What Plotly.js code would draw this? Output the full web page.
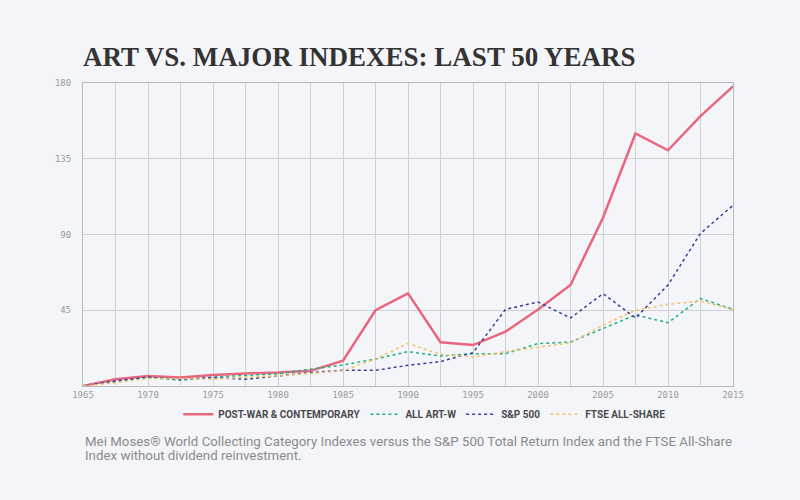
<!DOCTYPE html>
<html>
<head>
<meta charset="utf-8">
<script src="https://cdn.plot.ly/plotly-3.0.1.min.js"></script>
<style>
  html, body { margin: 0; padding: 0; background: #f4f5f9; }
  #chart { width: 800px; height: 500px; }
</style>
</head>
<body>
<div id="chart"></div>
<script>
const years = [1965, 1967.5, 1970, 1972.5, 1975, 1977.5, 1980, 1982.5, 1985, 1987.5, 1990,
               1992.5, 1995, 1997.5, 2000, 2002.5, 2005, 2007.5, 2010, 2012.5, 2015];
const postWar = [0, 4, 6, 5, 6.5, 7.5, 8, 9, 15, 45, 55, 26, 24.3, 32.3, 45.5, 60, 100, 150, 140, 160.3, 178];
const allArt  = [0, 2.6, 5, 3.4, 5.3, 6.3, 7.3, 10, 12.5, 16, 20.4, 17.8, 19.2, 19.2, 25.2, 26.1, 34.3, 42.2, 37.6, 52, 45.5];
const sp500   = [0, 3, 5.3, 4, 5, 4, 6, 8, 9.3, 9.3, 12.3, 14.5, 19.8, 45.5, 49.9, 40.4, 54.9, 40.4, 60, 90.7, 107.3];
const ftse    = [0, 2, 4.5, 4.5, 4, 5.3, 6, 7.3, 9, 16, 25.2, 18.8, 17.2, 20.4, 23.2, 25.6, 36.2, 45, 48.5, 50.5, 45.5];
const seriesNames = ["POST-WAR & CONTEMPORARY", "ALL ART-W", "S&P 500", "FTSE ALL-SHARE"];
const xTicks = [1965, 1970, 1975, 1980, 1985, 1990, 1995, 2000, 2005, 2010, 2015];
const yTicks = [45, 90, 135, 180];
const captionLines = [
  "Mei Moses® World Collecting Category Indexes versus the S&P 500 Total Return Index and the FTSE All-Share",
  "Index without dividend reinvestment."
];

const traces = [
  {x: years, y: postWar, name: seriesNames[0], mode: "lines",
   line: {color: "#e8667e", width: 2.5}},
  {x: years, y: allArt, name: seriesNames[1], mode: "lines",
   line: {color: "#22b07d", width: 1.5, dash: "3px,3px"}},
  {x: years, y: sp500, name: seriesNames[2], mode: "lines",
   line: {color: "#3b3f96", width: 1.5, dash: "3px,3px"}},
  {x: years, y: ftse, name: seriesNames[3], mode: "lines",
   line: {color: "#f5c46a", width: 1.5, dash: "dot"}}
];

const layout = {
  width: 800, height: 500,
  paper_bgcolor: "#f4f5f9", plot_bgcolor: "#f4f5f9",
  margin: {l: 83, r: 67, t: 83, b: 114},
  title: {
    text: "ART VS. MAJOR INDEXES: LAST 50 YEARS",
    font: {family: "Liberation Serif", size: 27, color: "#333333", weight: "bold"},
    x: 83/800, xanchor: "left", xref: "container",
    y: 1 - 57/500, yanchor: "middle", yref: "container"
  },
  xaxis: {
    range: [1965, 2015], tickvals: xTicks, ticktext: xTicks.map(String),
    showgrid: true, gridcolor: "#cfd0d4", gridwidth: 1,
    minor: {dtick: 2.5, tick0: 1965, showgrid: true, gridcolor: "#cfd0d4", gridwidth: 1},
    showline: true, linecolor: "#b8b9bd", linewidth: 1, mirror: true,
    zeroline: false, ticks: "",
    tickfont: {family: "DejaVu Sans Mono", size: 9, color: "#9a9a9e"}
  },
  yaxis: {
    range: [0, 180], tickvals: yTicks, ticktext: yTicks.map(String),
    showgrid: true, gridcolor: "#cfd0d4", gridwidth: 1,
    showline: true, linecolor: "#b8b9bd", linewidth: 1, mirror: true,
    zeroline: false, ticks: "", ticklabelstandoff: 9,
    tickfont: {family: "DejaVu Sans Mono", size: 9, color: "#9a9a9e"}
  },
  showlegend: true,
  legend: {
    orientation: "h", x: 0.525, xanchor: "center", y: -0.045, yanchor: "top",
    font: {family: "Roboto", size: 10, color: "#4a4a4e", weight: "bold"},
    itemwidth: 30, bgcolor: "rgba(0,0,0,0)", traceorder: "normal"
  },
  annotations: [
    {xref: "paper", yref: "paper", x: 0, y: (386 - 441) / 303, xanchor: "left", yanchor: "middle",
     align: "left", showarrow: false, text: captionLines[0],
     font: {family: "Roboto", size: 13.3, color: "#8a8a8e"}},
    {xref: "paper", yref: "paper", x: 0, y: (386 - 455) / 303, xanchor: "left", yanchor: "middle",
     align: "left", showarrow: false, text: captionLines[1],
     font: {family: "Roboto", size: 13.3, color: "#8a8a8e"}}
  ]
};

Plotly.newPlot("chart", traces, layout, {displayModeBar: false, staticPlot: true});
</script>
</body>
</html>
